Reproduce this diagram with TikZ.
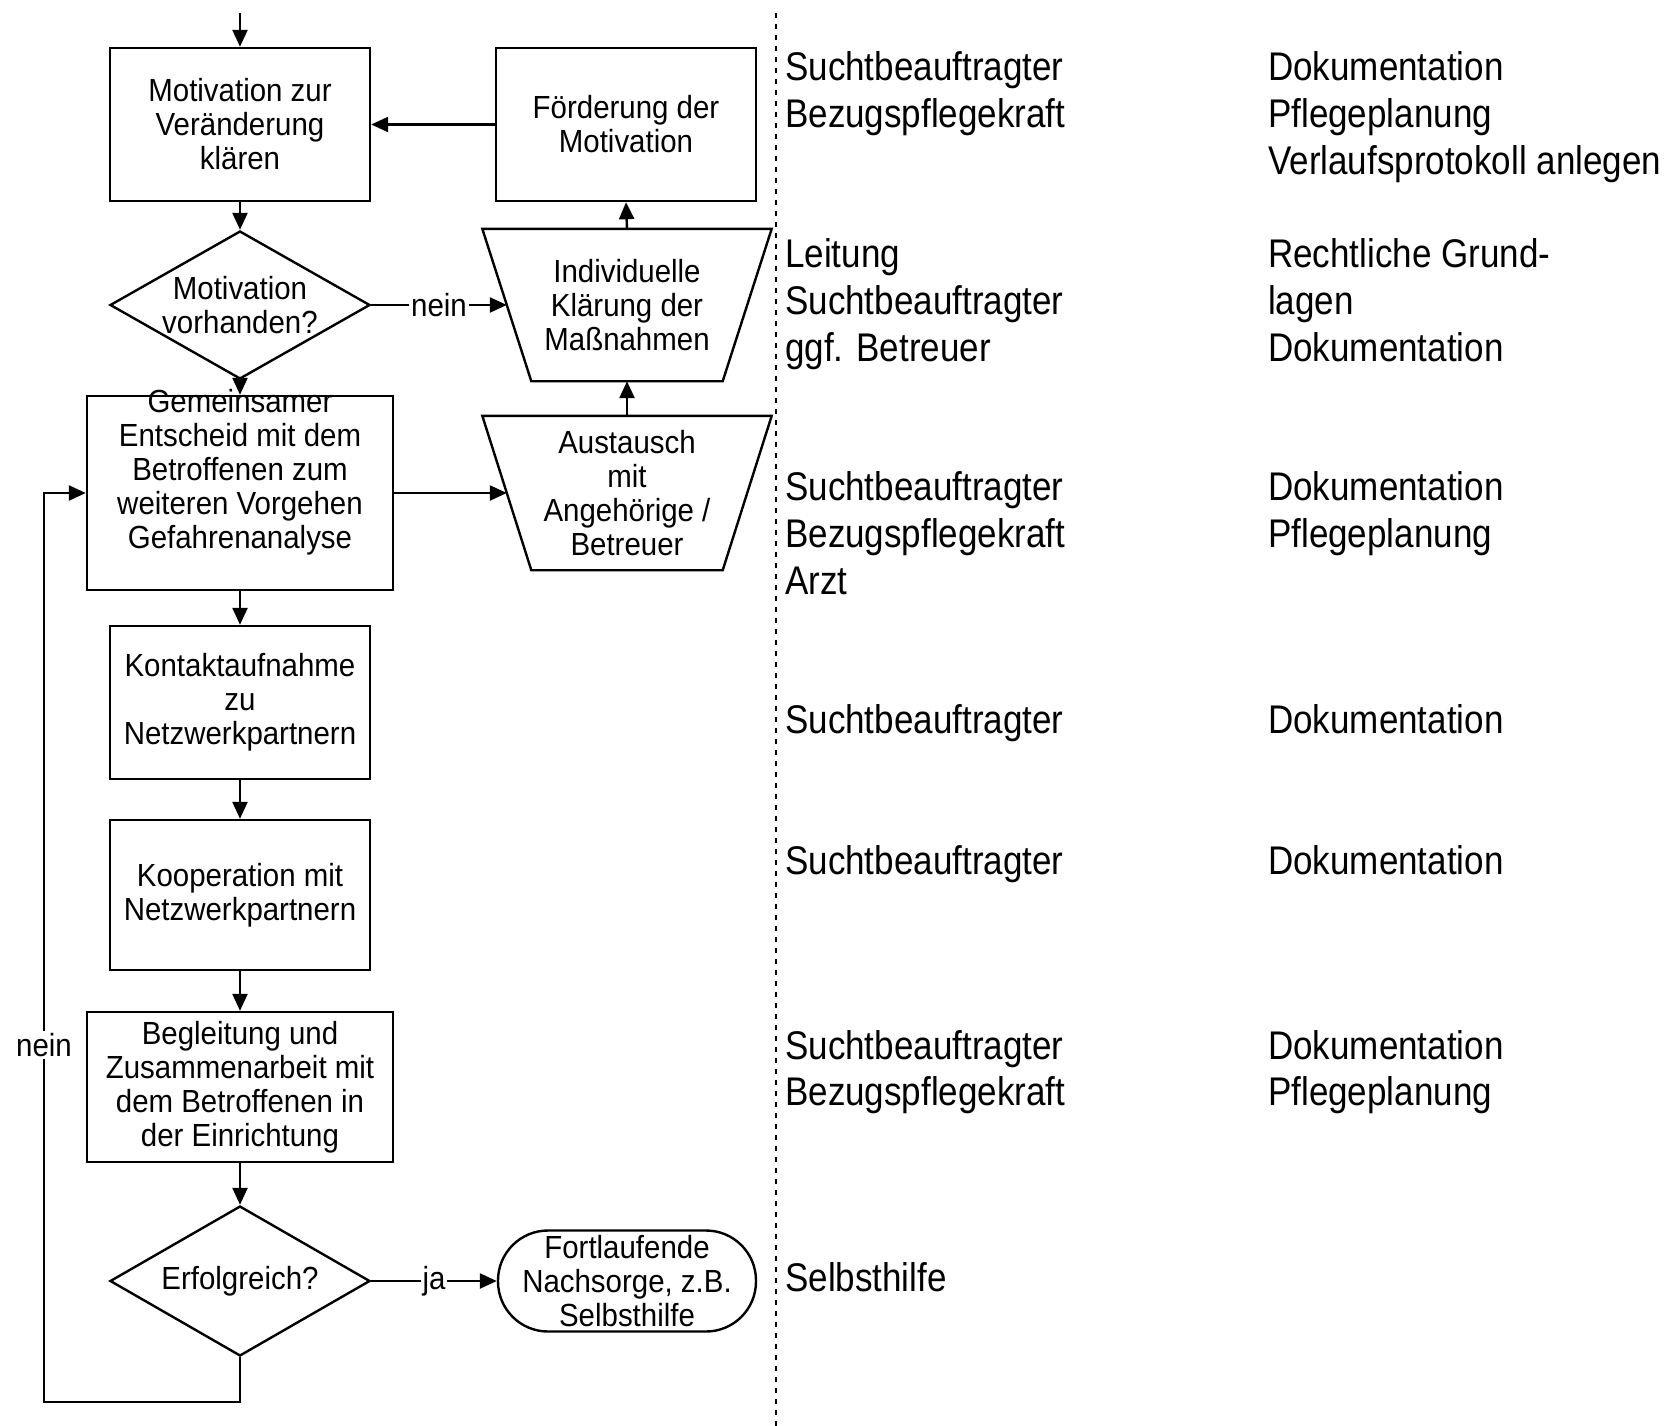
\documentclass[tikz,border=0pt]{standalone}
\usepackage{fontspec}
\setmainfont{Liberation Sans}
\newfontfamily\boxfont[FakeStretch=0.92]{Liberation Sans}
\newfontfamily\sidefont[FakeStretch=0.875]{Liberation Sans}
\usetikzlibrary{arrows.meta,shapes.geometric,calc}
\begin{document}
\begin{tikzpicture}[x=1pt,y=-1pt,line width=2.4pt,
  bf/.style={font=\boxfont\fontsize{32}{34}\selectfont},
  box/.style={draw, rectangle, minimum width=260pt, minimum height=153pt, inner sep=0pt, align=center, bf},
  wbox/.style={box, minimum width=306pt},
  dia/.style={draw, diamond, aspect=1.76, minimum width=260pt, minimum height=148pt, inner sep=0pt, align=center, bf},
  ttext/.style={inner sep=0pt, align=center, bf},
  trap/.style={draw, line join=miter},
  arr/.style={-{Triangle[length=17pt,width=15pt]}},
  lab/.style={fill=white, inner sep=2pt, bf},
  side/.style={anchor=base west, inner sep=0pt, font=\sidefont\fontsize{40}{47}\selectfont},
  sep/.style={line width=2.5pt, dash pattern=on 5pt off 6pt}]
\useasboundingbox (0,0) rectangle (1668,1426);

% flowchart nodes
\node[box] (b1) at (240,124.5) {Motivation zur\\Veränderung\\klären};
\node[box] (b2) at (626,124.5) {Förderung der\\Motivation};
\node[dia] (d1) at (240,305) {Motivation\\vorhanden?};
\node[ttext, minimum width=287pt, minimum height=150pt] (t1) at (627,305) {Individuelle\\Klärung der\\Maßnahmen};
\node[wbox, minimum height=194pt] (b3) at (240,493) {};
\node[ttext] (b3t) at (240,472) {Gemeinsamer\\Entscheid mit dem\\Betroffenen zum\\weiteren Vorgehen\\Gefahrenanalyse};
\node[ttext, minimum width=287pt, minimum height=152pt] (t2) at (627,493) {Austausch\\mit\\Angehörige /\\Betreuer};
\node[box] (b4) at (240,702.5) {Kontaktaufnahme\\zu\\Netzwerkpartnern};
\node[box, minimum height=150pt] (b5) at (240,895) {Kooperation mit\\Netzwerkpartnern};
\node[wbox, minimum height=150pt] (b6) at (240,1087) {Begleitung und\\Zusammenarbeit mit\\dem Betroffenen in\\der Einrichtung};
\node[dia, minimum height=150pt] (d2) at (240,1281) {Erfolgreich?};
\node[draw, rounded corners=50pt, minimum width=258pt, minimum height=101pt, inner sep=0pt, align=center, bf] (term) at (627,1281) {Fortlaufende\\Nachsorge, z.B.\\Selbsthilfe};

% trapezia outlines
\draw[trap] (t1.north west) -- (t1.north east) -- ([xshift=-49pt]t1.south east) -- ([xshift=49pt]t1.south west) -- cycle;
\draw[trap] (t2.north west) -- (t2.north east) -- ([xshift=-49pt]t2.south east) -- ([xshift=49pt]t2.south west) -- cycle;
\coordinate (t1l) at ($(t1.west)+(24.5,0)$);
\coordinate (t2l) at ($(t2.west)+(24.5,0)$);

% connectors
\coordinate (start) at (240,13);
\draw[arr] (start) -- (b1.north);
\draw[arr] (b2.west) -- (b1.east);
\draw[arr] (b1.south) -- (d1.north);
\draw[arr] (t1.north) -- (b2.south);
\draw[arr] (d1.east) -- node[lab]{nein} (t1l);
\draw[arr] (d1.south) -- (b3.north);
\draw[arr] (t2.north) -- (t1.south);
\draw[arr] (b3.east) -- (t2l);
\draw[arr] (b3.south) -- (b4.north);
\draw[arr] (b4.south) -- (b5.north);
\draw[arr] (b5.south) -- (b6.north);
\draw[arr] (b6.south) -- (d2.north);
\draw[arr] (d2.east) -- node[lab]{ja} (term.west);
\coordinate (lb) at (44,1402);
\coordinate (lt) at (44,493);
\draw[arr] (d2.south) |- (lb) -- node[lab, pos=0.393]{nein} (lt) -- (b3.west);

% separator
\coordinate (s1) at (776,13);
\coordinate (s2) at (776,1426);
\draw[sep] (s1) -- (s2);

% right columns
\foreach \y/\t [count=\i] in {81/Suchtbeauftragter, 128/Bezugspflegekraft,
  267/Leitung, 314/Suchtbeauftragter, 361/ggf. Betreuer,
  500/Suchtbeauftragter, 547/Bezugspflegekraft, 594/Arzt,
  733/Suchtbeauftragter, 874/Suchtbeauftragter,
  1059/Suchtbeauftragter, 1105/Bezugspflegekraft, 1291/Selbsthilfe}
  \node[side] (ra\i) at (784,\y) {\t};
\foreach \y/\t [count=\i] in {81/Dokumentation, 128/Pflegeplanung, 175/Verlaufsprotokoll anlegen,
  267/Rechtliche Grund-, 314/lagen, 361/Dokumentation,
  500/Dokumentation, 547/Pflegeplanung,
  733/Dokumentation, 874/Dokumentation,
  1059/Dokumentation, 1105/Pflegeplanung}
  \node[side] (rb\i) at (1267,\y) {\t};
\end{tikzpicture}
\end{document}
